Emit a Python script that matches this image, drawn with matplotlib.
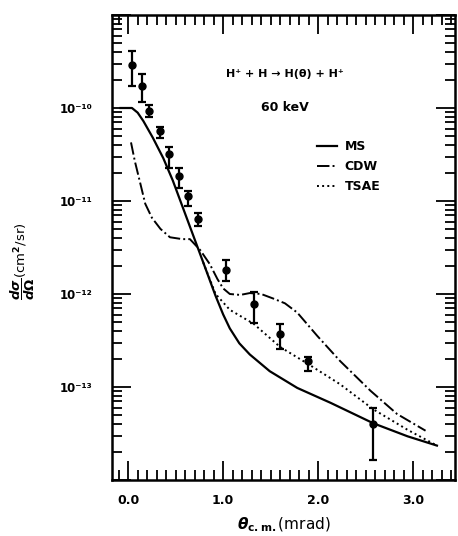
#-------------------------------------------------------------------------------
import numpy as np
import matplotlib
matplotlib.use('Agg')
import matplotlib.pyplot as plt
from matplotlib.ticker import FixedLocator, LogLocator, NullFormatter, MultipleLocator
#-------------------------------------------------------------------------------
# experimental points (theta in mrad, log10 of cross section)
th_exp   = [0.045, 0.15, 0.22, 0.34, 0.43, 0.53, 0.63, 0.73, 1.03, 1.32, 1.60, 1.89, 2.58]
lg_exp   = [-9.54, -9.76, -10.03, -10.25, -10.49, -10.73, -10.95, -11.19, -11.74, -12.11, -12.43, -12.72, -13.40]
lg_top   = [-9.39, -9.63, -9.97, -10.20, -10.42, -10.65, -10.89, -11.13, -11.63, -11.98, -12.32, -12.68, -13.23]
lg_bot   = [-9.76, -9.94, -10.10, -10.32, -10.65, -10.86, -11.05, -11.27, -11.86, -12.31, -12.59, -12.83, -13.78]

# MS
th_ms = [-0.08, 0.04, 0.10, 0.16, 0.26, 0.37, 0.47, 0.55, 0.67, 0.79, 0.92, 1.00, 1.07, 1.17, 1.28, 1.49, 1.78, 2.13, 2.58, 2.94, 3.25]
lg_ms = [-10.0, -10.0, -10.05, -10.14, -10.32, -10.54, -10.78, -11.0, -11.33, -11.66, -12.02, -12.22, -12.37, -12.53, -12.65, -12.83, -13.01, -13.17, -13.39, -13.53, -13.63]

# CDW
th_cdw = [0.03, 0.07, 0.13, 0.18, 0.25, 0.34, 0.44, 0.57, 0.65, 0.76, 0.86, 0.94, 1.00, 1.07, 1.18, 1.28, 1.40, 1.53, 1.65, 1.78, 1.99, 2.23, 2.55, 2.83, 3.13]
lg_cdw = [-10.37, -10.57, -10.82, -11.03, -11.18, -11.30, -11.39, -11.41, -11.41, -11.53, -11.68, -11.84, -11.94, -12.0, -12.01, -11.99, -12.0, -12.05, -12.10, -12.20, -12.45, -12.72, -13.04, -13.29, -13.47]

# TSAE
th_tsae = [0.79, 0.92, 1.07, 1.32, 1.60, 1.89, 2.23, 2.58, 2.94, 3.25]
lg_tsae = [-11.66, -12.0, -12.17, -12.32, -12.57, -12.75, -12.97, -13.24, -13.46, -13.63]

ytick_exp  = [-14, -13, -12, -11, -10, -9]
ytick_text = ['', '10⁻¹³', '10⁻¹²', '10⁻¹¹', '10⁻¹⁰', '']
xtick_val  = [0.0, 1.0, 2.0, 3.0]
#-------------------------------------------------------------------------------
plt.rcParams['font.family'] = ['DejaVu Sans']
plt.rcParams['font.weight'] = 'bold'

fig = plt.figure(figsize=(4.58, 5.36), dpi=100)
ax = fig.add_axes([112/458, 1-480/536, 343/458, 465/536])

y_exp = 10.0**np.array(lg_exp)
err_lo = y_exp - 10.0**np.array(lg_bot)
err_hi = 10.0**np.array(lg_top) - y_exp

ax.plot(th_ms, 10.0**np.array(lg_ms), 'k-', linewidth=1.6, label='MS')
ax.plot(th_cdw, 10.0**np.array(lg_cdw), 'k-.', linewidth=1.4, label='CDW')
ax.plot(th_tsae, 10.0**np.array(lg_tsae), 'k:', linewidth=1.4, label='TSAE')
ax.errorbar(th_exp, y_exp, yerr=[err_lo, err_hi], fmt='o', color='k',
            markersize=5, capsize=3, elinewidth=1.6, capthick=1.6)

ax.set_yscale('log')
ax.set_xlim(-0.17, 3.44)
ax.set_ylim(1e-14, 1e-9)
#-------------------------------------------------------------------------------
ax.yaxis.set_major_locator(FixedLocator([10.0**e for e in ytick_exp]))
ax.set_yticklabels(ytick_text, fontsize=8.5, fontweight='bold')
ax.yaxis.set_minor_locator(LogLocator(base=10, subs=np.arange(2, 10), numticks=20))
ax.yaxis.set_minor_formatter(NullFormatter())
ax.set_xticks(xtick_val)
ax.set_xticklabels(['%.1f' % v for v in xtick_val], fontsize=9, fontweight='bold')
ax.xaxis.set_minor_locator(MultipleLocator(0.1))
ax.tick_params(which='both', direction='in', top=True, right=True, width=1.3)
ax.tick_params(which='major', length=14, pad=10)
ax.tick_params(which='minor', length=7)
ax.tick_params(axis='y', which='major', pad=14)
for s in ax.spines.values():
    s.set_linewidth(1.8)
#-------------------------------------------------------------------------------
ax.text(1.65, 10**-9.63, 'H⁺ + H → H(θ) + H⁺', ha='center', va='center',
        fontsize=8, fontweight='bold')
ax.text(1.65, 10**-10.0, '60 keV', ha='center', va='center',
        fontsize=9, fontweight='bold')
ax.legend(loc='upper left', bbox_to_anchor=(0.565, 0.755), frameon=False,
          handlelength=1.6, handletextpad=0.6, labelspacing=0.55,
          prop={'size': 9, 'weight': 'bold'})

ax.set_xlabel(r'$\theta_{\rm c.m.}$(mrad)', fontsize=11, labelpad=6)
ax.set_ylabel(r'$\dfrac{d\sigma}{d\Omega}$(cm$^2$/sr)', fontsize=9.5)
ax.yaxis.set_label_coords(-0.22, 0.47)
#-------------------------------------------------------------------------------
plt.savefig('out.png', dpi=100)
#-------------------------------------------------------------------------------
